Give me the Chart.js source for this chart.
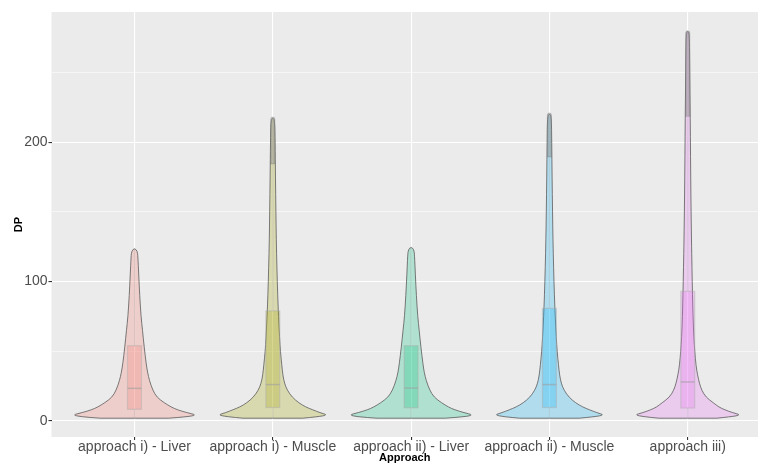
<!DOCTYPE html>
<html>
<head>
<meta charset="utf-8">
<script src="https://cdn.jsdelivr.net/npm/chart.js@4.4.0/dist/chart.umd.min.js"></script>
<style>
  html, body { margin: 0; padding: 0; background: #ffffff; }
</style>
</head>
<body>
<canvas id="chart" width="758" height="463"></canvas>
<script>
// Categories and axis ticks
const approaches = ["approach i) - Liver", "approach i) - Muscle", "approach ii) - Liver", "approach ii) - Muscle", "approach iii)"]
const yTicks = [0, 50, 100, 150, 200, 250]
const yLabels = ["0", "", "100", "", "200", ""]

// Boxplot values
const boxQ1 = [8.4, 9.7, 9.5, 9.7, 9.3]
const boxMedian = [23.4, 26.1, 23.6, 26.1, 28]
const boxQ3 = [54, 79, 54, 80.8, 93]
const whiskerLow = [2, 2, 2, 2, 2]
const whiskerHigh = [124, 184.5, 125, 189.5, 218.6]
const maxValue = [124, 218, 125, 221, 280]

// Violin profiles: DP levels and relative half width (1 = widest violin)
const liverILevels = [2, 3, 4.3, 6, 8, 10, 13, 17, 22, 29, 35, 41, 53, 65, 75, 90, 105, 118, 122, 124]
const liverIWidths = [0.55, 0.85, 1.0, 0.84, 0.69, 0.59, 0.48, 0.36, 0.295, 0.24, 0.21, 0.188, 0.156, 0.129, 0.105, 0.084, 0.068, 0.055, 0.045, 0]
const muscleILevels = [2, 3, 4.3, 6, 8, 10, 13, 17, 22, 27, 33, 40, 50, 60, 75, 90, 110, 130, 150, 175, 200, 215, 218]
const muscleIWidths = [0.48, 0.72, 0.885, 0.755, 0.643, 0.53, 0.418, 0.313, 0.233, 0.188, 0.161, 0.145, 0.122, 0.109, 0.092, 0.079, 0.066, 0.056, 0.05, 0.043, 0.037, 0.032, 0]
const liverIILevels = [2, 3, 4.3, 6, 8, 10, 13, 17, 22, 29, 35, 41, 53, 65, 75, 90, 105, 119, 123, 125]
const liverIIWidths = [0.55, 0.86, 1.0, 0.85, 0.7, 0.6, 0.49, 0.37, 0.3, 0.242, 0.21, 0.19, 0.157, 0.13, 0.106, 0.085, 0.068, 0.055, 0.045, 0]
const muscleIILevels = [2, 3, 4.3, 6, 8, 10, 13, 17, 22, 27, 33, 40, 50, 60, 75, 90, 110, 130, 150, 175, 200, 218, 221]
const muscleIIWidths = [0.48, 0.72, 0.885, 0.76, 0.645, 0.535, 0.42, 0.315, 0.235, 0.19, 0.163, 0.146, 0.124, 0.11, 0.093, 0.08, 0.067, 0.057, 0.05, 0.043, 0.037, 0.032, 0]
const approachIIILevels = [2, 3, 4.3, 6, 8, 10, 13, 17, 22, 27, 33, 40, 50, 60, 75, 90, 110, 130, 160, 190, 218, 240, 265, 278, 280]
const approachIIIWidths = [0.466, 0.69, 0.857, 0.72, 0.595, 0.5, 0.413, 0.294, 0.225, 0.188, 0.158, 0.132, 0.113, 0.098, 0.085, 0.077, 0.068, 0.06, 0.051, 0.045, 0.04, 0.035, 0.03, 0.024, 0]

const violinLevels = [liverILevels, muscleILevels, liverIILevels, muscleIILevels, approachIIILevels]
const violinWidths = [liverIWidths, muscleIWidths, liverIIWidths, muscleIIWidths, approachIIIWidths]

// Couleurs ggplot
const hueColors = ["248,118,109", "163,165,0", "0,191,125", "0,176,246", "231,107,243"]

const FONT = "'Liberation Sans', Arial, Helvetica, sans-serif"
const VIOLIN_HALF = 0.45
const BOX_HALF = 0.05

// Smooth path through points using midpoints
function smoothPath(ctx, pts) {
  ctx.moveTo(pts[0].x, pts[0].y)
  for (let i = 1; i < pts.length - 1; i++) {
    const mx = (pts[i].x + pts[i + 1].x) / 2
    const my = (pts[i].y + pts[i + 1].y) / 2
    ctx.quadraticCurveTo(pts[i].x, pts[i].y, mx, my)
  }
  const last = pts[pts.length - 1]
  ctx.lineTo(last.x, last.y)
}

const violinPlugin = {
  id: "violins",
  beforeDraw(chart) {
    const { ctx, chartArea: a } = chart
    ctx.save()
    ctx.fillStyle = "#EBEBEB"
    ctx.fillRect(a.left, a.top, a.right - a.left, a.bottom - a.top)
    ctx.restore()
  },
  afterDatasetsDraw(chart) {
    const { ctx } = chart
    const x = chart.scales.x
    const y = chart.scales.y
    const unit = x.getPixelForValue(1) - x.getPixelForValue(0)

    approaches.forEach((name, i) => {
      const cx = x.getPixelForValue(i + 1)
      const levels = violinLevels[i]
      const widths = violinWidths[i]
      const right = levels.map((lv, k) => ({ x: cx + widths[k] * VIOLIN_HALF * unit, y: y.getPixelForValue(lv) }))
      const left = levels.map((lv, k) => ({ x: cx - widths[k] * VIOLIN_HALF * unit, y: y.getPixelForValue(lv) })).reverse()
      const pts = right.concat(left.slice(1))

      // violin
      ctx.save()
      ctx.beginPath()
      smoothPath(ctx, pts)
      ctx.closePath()
      ctx.fillStyle = `rgba(${hueColors[i]},0.25)`
      ctx.fill()
      ctx.strokeStyle = "#5a5a5a"
      ctx.lineWidth = 0.8
      ctx.stroke()

      // whiskers
      const bx0 = cx - BOX_HALF * unit
      const bw = BOX_HALF * 2 * unit
      ctx.strokeStyle = "rgba(150,150,150,0.35)"
      ctx.lineWidth = 1
      ctx.beginPath()
      ctx.moveTo(cx, y.getPixelForValue(boxQ3[i]))
      ctx.lineTo(cx, y.getPixelForValue(whiskerHigh[i]))
      ctx.moveTo(cx, y.getPixelForValue(boxQ1[i]))
      ctx.lineTo(cx, y.getPixelForValue(whiskerLow[i]))
      ctx.stroke()

      // box
      const yTop = y.getPixelForValue(boxQ3[i])
      const yBot = y.getPixelForValue(boxQ1[i])
      ctx.fillStyle = `rgba(${hueColors[i]},0.25)`
      ctx.fillRect(bx0, yTop, bw, yBot - yTop)
      ctx.strokeStyle = "rgba(170,170,170,0.45)"
      ctx.lineWidth = 1.2
      ctx.strokeRect(bx0, yTop, bw, yBot - yTop)
      ctx.beginPath()
      const ym = y.getPixelForValue(boxMedian[i])
      ctx.moveTo(bx0, ym)
      ctx.lineTo(bx0 + bw, ym)
      ctx.strokeStyle = "rgba(160,160,160,0.6)"
      ctx.lineWidth = 1.5
      ctx.stroke()

      // outliers
      if (maxValue[i] > whiskerHigh[i] + 1) {
        const oTop = y.getPixelForValue(maxValue[i])
        const oBot = y.getPixelForValue(whiskerHigh[i])
        ctx.beginPath()
        ctx.moveTo(cx - 2.1, oBot)
        ctx.lineTo(cx - 2.1, oTop + 2)
        ctx.arc(cx, oTop + 2, 2.1, Math.PI, 0)
        ctx.lineTo(cx + 2.1, oBot)
        ctx.closePath()
        ctx.fillStyle = "rgba(140,140,140,0.55)"
        ctx.fill()
        ctx.strokeStyle = "rgba(110,110,110,0.45)"
        ctx.lineWidth = 0.6
        ctx.stroke()
      }
      ctx.restore()
    })
  },
}

const isMajor = (v) => v % 100 === 0

new Chart(document.getElementById("chart"), {
  type: "scatter",
  data: {
    datasets: [
      {
        label: "median",
        data: boxMedian.map((m, i) => ({ x: i + 1, y: m })),
        pointRadius: 0,
        showLine: false,
      },
    ],
  },
  options: {
    responsive: false,
    animation: false,
    layout: { padding: { top: 12, right: 0, left: 0, bottom: 0 } },
    plugins: {
      legend: { display: false },
      tooltip: { enabled: false },
    },
    scales: {
      x: {
        type: "linear",
        min: 0.4,
        max: 5.508,
        afterBuildTicks: (s) => {
          s.ticks = approaches.map((_, i) => ({ value: i + 1 }))
        },
        afterFit: (s) => {
          s.height = 26
        },
        ticks: {
          callback: (v, i) => approaches[i],
          color: "#4D4D4D",
          font: { family: FONT, size: 14 },
          padding: -1,
          maxRotation: 0,
          autoSkip: false,
        },
        grid: {
          color: "#FFFFFF",
          lineWidth: 1.1,
          tickLength: 3,
          tickColor: "#333333",
        },
        border: { display: false },
        title: {
          display: true,
          text: "Approach",
          color: "#000000",
          font: { family: FONT, size: 11, weight: "bold" },
          padding: { top: 0, bottom: -2 },
        },
      },
      y: {
        type: "linear",
        min: -11.5,
        max: 293.5,
        afterBuildTicks: (s) => {
          s.ticks = yTicks.map((v) => ({ value: v }))
        },
        afterFit: (s) => {
          s.width = 51.5
        },
        ticks: {
          callback: (v, i) => yLabels[i],
          color: "#4D4D4D",
          font: { family: FONT, size: 14 },
          padding: 1,
        },
        grid: {
          color: "#FFFFFF",
          lineWidth: (c) => (c.tick && isMajor(c.tick.value) ? 1.1 : 0.55),
          tickLength: 3,
          tickColor: (c) => (c.tick && isMajor(c.tick.value) ? "#333333" : "rgba(0,0,0,0)"),
        },
        border: { display: false },
        title: {
          display: true,
          text: "DP",
          color: "#000000",
          font: { family: FONT, size: 11, weight: "bold" },
          padding: { top: 12, bottom: 0 },
        },
      },
    },
  },
  plugins: [violinPlugin],
})
</script>
</body>
</html>
